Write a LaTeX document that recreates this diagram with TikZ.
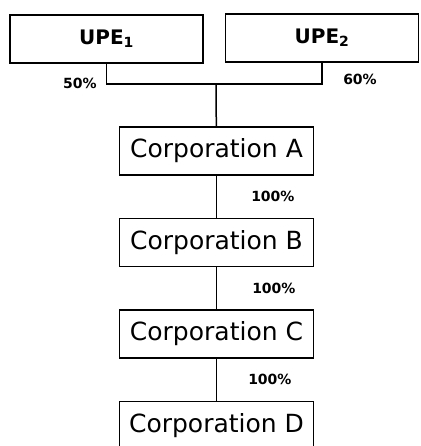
\documentclass[tikz,border=0pt]{standalone}
\usepackage{fontspec}
\setmainfont{DejaVu Sans}
\usetikzlibrary{positioning}
\tikzset{%
	upe/.style={draw, rectangle, line width=1.5pt, minimum width=193pt, minimum height=48pt,%
		inner sep=0pt, font=\fontsize{20}{24}\selectfont\bfseries},
	corp/.style={draw, rectangle, line width=1.5pt, minimum width=194pt, minimum height=48pt,%
		inner sep=0pt, font=\fontsize{25}{30}\selectfont, node distance=42pt},
	connector/.style={line width=1.5pt},
	pct/.style={inner sep=0pt, font=\fontsize{14}{17}\selectfont\bfseries}
}
\begin{document}
\begin{tikzpicture}[x=1pt, y=-1pt]
	\useasboundingbox (0,0) rectangle (420,446);
	\node[upe]                (upeA) at (106.5,39) {UPE\textsubscript{1}};
	\node[upe]                (upeB) at (322,38) {UPE\textsubscript{2}};
	\node[corp]               (corpA) at (216.5,151) {Corporation A};
	\node[corp, below=of corpA] (corpB) {Corporation B};
	\node[corp, below=of corpB] (corpC) {Corporation C};
	\node[corp, below=of corpC] (corpD) {Corporation D};
	\coordinate (join) at (216,84);

	\draw[connector] (upeA.south) |- (join) -| (upeB.south);
	\draw[connector] (join) -- (corpA);
	\node[pct] (shareA) at (80,83) {50\%};
	\node[pct] (shareB) at (360,79) {60\%};
	\draw[connector] (corpA) to node[pct, right=34pt]{100\%} (corpB);
	\draw[connector] (corpB) to node[pct, right=35pt]{100\%} (corpC);
	\draw[connector] (corpC) to node[pct, right=31pt]{100\%} (corpD);
\end{tikzpicture}
\end{document}
